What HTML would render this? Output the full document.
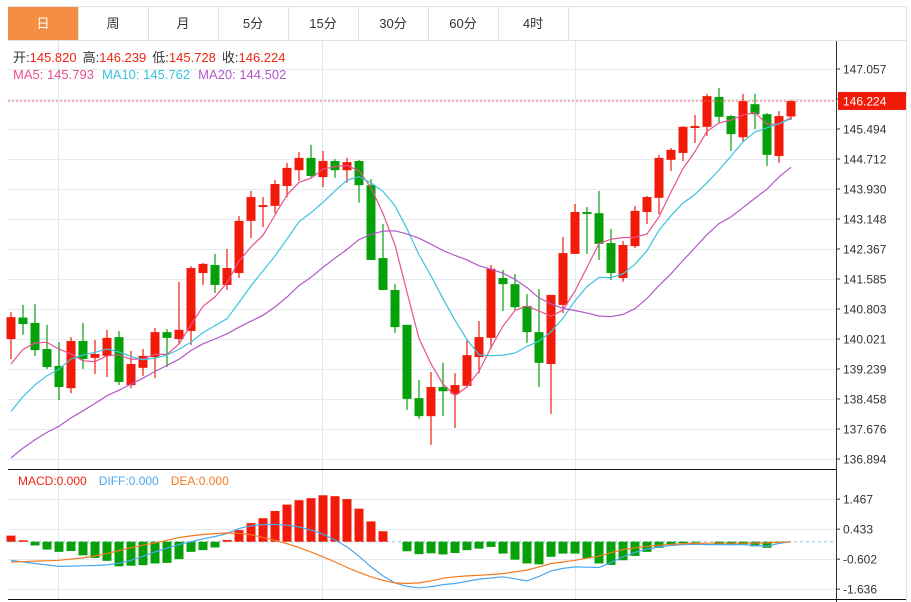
<!DOCTYPE html>
<html><head><meta charset="utf-8"><style>
body{margin:0;background:#fff;font-family:"Liberation Sans","Noto Sans CJK SC",sans-serif;}
svg{display:block}
</style></head><body>
<svg id="chart" width="911" height="602" xmlns="http://www.w3.org/2000/svg" font-family="Liberation Sans, Noto Sans CJK SC, sans-serif">
<rect x="0" y="0" width="911" height="602" fill="#fff"/>
<g id="tabs"></g>
<g id="grid"></g>
<g id="marks"></g>
<g id="axes"></g>
<text x="13" y="62" font-size="13"><tspan fill="#333">开:</tspan><tspan fill="#f0230f">145.820</tspan><tspan fill="#333" dx="6">高:</tspan><tspan fill="#f0230f">146.239</tspan><tspan fill="#333" dx="6">低:</tspan><tspan fill="#f0230f">145.728</tspan><tspan fill="#333" dx="6">收:</tspan><tspan fill="#f0230f">146.224</tspan></text>
<text x="13" y="79" font-size="13"><tspan fill="#e8528f">MA5: 145.793</tspan><tspan fill="#3bc4dd" dx="8">MA10: 145.762</tspan><tspan fill="#b259c9" dx="8">MA20: 144.502</tspan></text>
<text x="18" y="485" font-size="12"><tspan fill="#f0230f">MACD:0.000</tspan><tspan fill="#4aa8f0" dx="12">DIFF:0.000</tspan><tspan fill="#f47a20" dx="12">DEA:0.000</tspan></text>
</svg>
<script>
const tabLabels=["日","周","月","5分","15分","30分","60分","4时"];
const priceTicks=[147.057,146.275,145.494,144.712,143.930,143.148,142.367,141.585,140.803,140.021,139.239,138.458,137.676,136.894];
const macdTicks=[1.467,0.433,-0.602,-1.636];
const priorCloses=[135.26,135.36,135.46,135.56,135.66,135.76,135.86,135.96,136.06,136.16,136.5,136.7,136.9,137.1,137.26,138.5,138.9,139.2,139.66];
const opens=[140.02,140.58,140.44,139.76,139.32,138.74,139.97,139.53,139.58,140.07,138.82,139.27,139.55,140.20,140.02,140.23,141.74,141.95,141.43,141.74,143.10,143.46,143.49,144.01,144.42,144.74,144.24,144.66,144.42,144.66,144.03,142.13,141.30,140.39,138.48,138.01,138.77,138.59,138.80,139.55,140.05,141.61,141.45,140.88,140.20,139.37,140.91,142.24,143.33,143.30,142.52,141.61,142.44,143.33,143.70,144.69,144.87,145.52,145.55,146.33,145.83,145.28,146.14,145.88,144.79,145.820];
const highs=[140.72,140.91,140.93,140.39,139.94,140.07,140.44,139.99,140.26,140.23,139.71,139.76,140.31,140.28,141.51,141.92,142.00,142.24,142.37,143.23,143.88,143.72,144.16,144.61,144.89,145.08,144.92,144.71,144.74,144.69,144.19,143.02,141.46,140.39,138.95,139.16,139.40,139.13,139.99,140.49,141.95,141.82,141.71,141.19,141.32,141.17,142.68,143.54,143.46,143.88,142.89,142.575,143.49,143.75,144.82,145.00,145.57,145.86,146.41,146.56,145.86,146.41,146.41,145.91,145.96,146.239];
const lows=[139.50,140.13,139.58,139.24,138.43,138.61,139.24,139.11,139.03,138.82,138.74,139.06,139.00,139.29,139.89,139.86,141.43,141.22,141.30,141.61,142.65,142.94,143.30,143.72,144.14,144.22,143.98,144.22,144.09,143.57,142.08,141.30,140.18,138.17,137.94,137.26,138.01,137.70,138.80,139.13,139.76,140.75,140.78,139.92,138.77,138.07,140.70,142.24,142.24,142.08,141.56,141.51,142.39,143.02,143.28,144.40,144.66,145.13,145.31,145.65,144.92,145.15,145.49,144.53,144.61,145.728];
const closes=[140.59,140.41,139.73,139.29,138.77,139.97,139.50,139.63,140.05,138.90,139.37,139.58,140.20,140.05,140.26,141.87,141.98,141.43,141.87,143.10,143.72,143.51,144.06,144.48,144.74,144.27,144.66,144.42,144.63,144.03,142.08,141.30,140.33,138.46,138.01,138.77,138.66,138.82,139.60,140.07,141.85,141.45,140.85,140.20,139.40,141.17,142.26,143.33,143.28,142.50,141.74,142.47,143.36,143.72,144.74,144.95,145.55,145.57,146.35,145.81,145.36,146.22,145.88,144.82,145.83,146.224];
const macdHist=[0.21,0.05,-0.13,-0.27,-0.35,-0.32,-0.47,-0.56,-0.66,-0.85,-0.83,-0.81,-0.75,-0.73,-0.60,-0.35,-0.29,-0.20,0.06,0.40,0.64,0.81,1.06,1.28,1.43,1.50,1.60,1.57,1.47,1.14,0.70,0.36,0,-0.33,-0.43,-0.40,-0.44,-0.39,-0.29,-0.24,-0.18,-0.41,-0.62,-0.75,-0.78,-0.52,-0.41,-0.41,-0.57,-0.75,-0.80,-0.64,-0.49,-0.35,-0.21,-0.11,-0.05,-0.03,0,-0.09,-0.12,-0.09,-0.16,-0.21,-0.02,0];
const diffLine=[-0.64,-0.70,-0.75,-0.80,-0.85,-0.84,-0.83,-0.82,-0.80,-0.74,-0.64,-0.50,-0.35,-0.22,-0.10,0.00,0.10,0.18,0.28,0.46,0.55,0.59,0.60,0.57,0.51,0.40,0.26,0.06,-0.18,-0.50,-0.87,-1.18,-1.42,-1.54,-1.59,-1.55,-1.48,-1.44,-1.37,-1.29,-1.25,-1.21,-1.28,-1.35,-1.20,-1.01,-0.92,-0.87,-0.88,-0.89,-0.72,-0.52,-0.37,-0.25,-0.18,-0.13,-0.10,-0.09,-0.10,-0.10,-0.10,-0.10,-0.13,-0.16,-0.06,0];
const deaLine=[-0.70,-0.69,-0.67,-0.66,-0.64,-0.60,-0.56,-0.49,-0.41,-0.31,-0.21,-0.12,-0.04,0.05,0.14,0.20,0.25,0.28,0.30,0.29,0.24,0.15,0.05,-0.07,-0.20,-0.36,-0.52,-0.70,-0.89,-1.06,-1.21,-1.33,-1.42,-1.44,-1.42,-1.35,-1.26,-1.21,-1.18,-1.16,-1.13,-1.10,-1.04,-0.98,-0.87,-0.75,-0.70,-0.64,-0.57,-0.50,-0.38,-0.27,-0.21,-0.16,-0.12,-0.09,-0.07,-0.06,-0.05,-0.05,-0.05,-0.05,-0.05,-0.04,-0.02,0];
const lastPrice=146.224;

const NS="http://www.w3.org/2000/svg";
const L=8,R=836,PT=69,PB=459,MZ=541.7,MS=29.0;
const RED="#f21a08",GREEN="#06a00a";
function xOf(i){return 11+12*i;}
function yP(p){return PT+(priceTicks[0]-p)*(PB-PT)/(priceTicks[0]-priceTicks[priceTicks.length-1]);}
function yM(v){return MZ-v*MS;}
function mk(tag,at,parent){const e=document.createElementNS(NS,tag);for(const k in at)e.setAttribute(k,at[k]);parent.appendChild(e);return e;}
const tabs=document.getElementById('tabs'),grid=document.getElementById('grid'),marks=document.getElementById('marks'),axes=document.getElementById('axes');

// tabs
mk('line',{x1:8,y1:6.5,x2:906,y2:6.5,stroke:'#e3e3e3'},tabs);
mk('line',{x1:8,y1:40.5,x2:906,y2:40.5,stroke:'#e3e3e3'},tabs);
mk('line',{x1:906.5,y1:6,x2:906.5,y2:602,stroke:'#e3e3e3'},tabs);
mk('line',{x1:8.5,y1:6,x2:8.5,y2:40,stroke:'#e3e3e3'},tabs);
tabLabels.forEach((t,i)=>{
  const g=mk('g',{},tabs);
  
  
  const x=8+70*i;
  if(i===0)mk('rect',{x:x,y:7,width:70,height:33,fill:'#f58d42'},g);
  mk('line',{x1:x+70.5,y1:7,x2:x+70.5,y2:40,stroke:'#e3e3e3'},g);
  const tx=mk('text',{x:x+35,y:28,'font-size':13,'text-anchor':'middle',fill:i===0?'#fff':'#333'},g);
  tx.textContent=t;
});

// grid
priceTicks.forEach(p=>{mk('line',{x1:L,x2:R,y1:Math.round(yP(p))+0.5,y2:Math.round(yP(p))+0.5,stroke:'#e4ebf1'},grid);});
macdTicks.forEach(v=>{mk('line',{x1:L,x2:R,y1:Math.round(yM(v))+0.5,y2:Math.round(yM(v))+0.5,stroke:'#e4ebf1'},grid);});
[58,322,575].forEach(x=>{mk('line',{x1:x+0.5,x2:x+0.5,y1:41,y2:599,stroke:'#e0e8ef'},grid);});

// candles
const cg=mk('g',{},marks);


for(let i=0;i<closes.length;i++){
  const up=closes[i]>=opens[i],col=up?RED:GREEN,x=xOf(i);
  const c=mk('g',{},cg);
  
  
  mk('line',{x1:x,x2:x,y1:yP(highs[i]),y2:yP(lows[i]),stroke:col,'stroke-width':1.2},c);
  const t=yP(Math.max(opens[i],closes[i])),b=yP(Math.min(opens[i],closes[i]));
  mk('rect',{x:x-4.5,y:t,width:9,height:Math.max(1.5,b-t),fill:col},c);
}
// MAs
const allC=priorCloses.concat(closes);
function ma(n){const out=[];for(let i=0;i<closes.length;i++){const j=i+priorCloses.length;let s=0;for(let k=j-n+1;k<=j;k++)s+=allC[k];out.push(s/n);}return out;}
[[5,'#e8528f','ma5-line'],[10,'#3bc4dd','ma10-line'],[20,'#b259c9','ma20-line']].forEach(([n,col,name])=>{
  const v=ma(n);
  const pl=mk('polyline',{points:v.map((p,i)=>xOf(i)+','+yP(p).toFixed(1)).join(' '),fill:'none',stroke:col,'stroke-width':1.2},marks);
  
  
});
// last price line
const lp=mk('line',{x1:L,x2:R,y1:yP(lastPrice),y2:yP(lastPrice),stroke:'#f0605a','stroke-dasharray':'2,2','stroke-width':1},marks);



// MACD
const zl=mk('line',{x1:L,x2:R,y1:yM(0),y2:yM(0),stroke:'#8cc6e6','stroke-dasharray':'3,3'},marks);


const hg=mk('g',{},marks);


macdHist.forEach((v,i)=>{
  if(Math.abs(v)<0.005)return;
  const r=mk('rect',{x:xOf(i)-4.5,width:9,y:Math.min(yM(v),yM(0)),height:Math.abs(yM(v)-yM(0)),fill:v>0?RED:GREEN},hg);
  
  
});
const dl=mk('polyline',{points:diffLine.map((v,i)=>xOf(i)+','+yM(v).toFixed(1)).join(' '),fill:'none',stroke:'#4aa8f0','stroke-width':1.2},marks);


const el=mk('polyline',{points:deaLine.map((v,i)=>xOf(i)+','+yM(v).toFixed(1)).join(' '),fill:'none',stroke:'#f47a20','stroke-width':1.2},marks);



// axes
mk('line',{x1:836.5,x2:836.5,y1:41,y2:602,stroke:'#333'},axes);
mk('line',{x1:8,x2:836,y1:469.5,y2:469.5,stroke:'#111'},axes);
mk('line',{x1:8,x2:906,y1:599.5,y2:599.5,stroke:'#111'},axes);
priceTicks.forEach(p=>{
  const y=yP(p);
  mk('line',{x1:836,x2:840,y1:y,y2:y,stroke:'#333'},axes);
  const t=mk('text',{x:843,y:y+4.5,'font-size':12,fill:'#333'},axes);
  
  
  t.textContent=p.toFixed(3);
});
macdTicks.forEach(v=>{
  const y=yM(v);
  mk('line',{x1:836,x2:840,y1:y,y2:y,stroke:'#333'},axes);
  const t=mk('text',{x:843,y:y+4.5,'font-size':12,fill:'#333'},axes);
  
  
  t.textContent=v.toFixed(3);
});
const lb=mk('g',{},axes);


mk('rect',{x:838,y:yP(lastPrice)-9,width:68,height:18,fill:'#f21a08'},lb);
const lt=mk('text',{x:843,y:yP(lastPrice)+4.5,'font-size':12,fill:'#fff'},lb);
lt.textContent=lastPrice.toFixed(3);
</script>
</body></html>
